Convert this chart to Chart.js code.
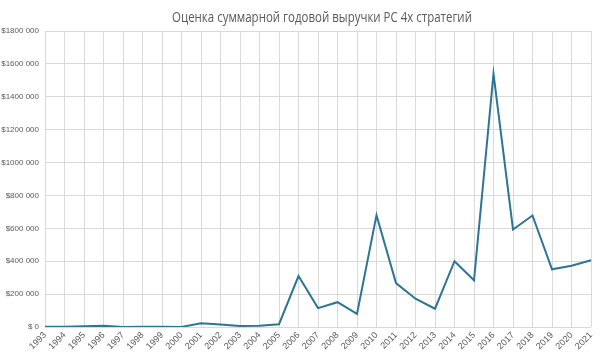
<!DOCTYPE html>
<html>
<head>
<meta charset="utf-8">
<script src="https://cdn.jsdelivr.net/npm/chart.js@4"></script>
<style>
html,body{margin:0;padding:0;background:#fff;}
#wrap{width:602px;height:353px;position:relative;}
#title{position:absolute;left:322px;top:7px;transform:translateX(-50%) scaleX(0.82);transform-origin:center;font-family:"Open Sans",sans-serif;font-size:14px;color:#595959;white-space:nowrap;}
</style>
</head>
<body>
<div id="wrap"><canvas id="c"></canvas><div id="title"></div></div>
<script>
const titleText = 'Оценка суммарной годовой выручки PC 4х стратегий';
const years = ['1993','1994','1995','1996','1997','1998','1999','2000','2001','2002','2003','2004','2005','2006','2007','2008','2009','2010','2011','2012','2013','2014','2015','2016','2017','2018','2019','2020','2021'];
const revenue = [2000,1000,5000,8000,0,1000,1000,0,23000,15000,6000,7000,17000,310000,115000,151000,80000,680000,267000,172000,111000,400000,284000,1540000,593000,678000,351000,373000,406000];
const yTicks = [0,200000,400000,600000,800000,1000000,1200000,1400000,1600000,1800000];

document.getElementById('title').textContent = titleText;
const fontFam = '"Liberation Sans", "Open Sans", sans-serif';
new Chart(document.getElementById('c'), {
  type: 'line',
  data: {
    labels: years,
    datasets: [{
      data: revenue,
      borderColor: '#2E7595',
      borderWidth: 2,
      pointRadius: 0,
      tension: 0,
      fill: false
    }]
  },
  options: {
    responsive: true,
    maintainAspectRatio: false,
    animation: false,
    layout: {padding: {left: 0, right: 11, top: 31, bottom: 0}},
    plugins: {
      legend: {display: false},
      tooltip: {enabled: false},
      title: {display: false}
    },
    scales: {
      x: {
        grid: {color: '#D9D9D9', lineWidth: 1, drawTicks: false},
        border: {display: false},
        ticks: {
          color: '#595959',
          font: {family: fontFam, size: 9},
          maxRotation: 45, minRotation: 45,
          autoSkip: false,
          padding: 3
        },
        afterFit: s => { s.height = 26; }
      },
      y: {
        min: 0, max: 1800000,
        afterBuildTicks: s => { s.ticks = yTicks.map(v => ({value: v})); },
        grid: {color: '#D9D9D9', lineWidth: 1, drawTicks: false},
        border: {display: false},
        ticks: {
          color: '#595959',
          font: {family: fontFam, size: 8},
          padding: 6,
          callback: v => v === 0 ? '$ 0' : '$' + (v / 1000) + ' 000'
        },
        afterFit: s => { s.width = 45; }
      }
    }
  }
});
</script>
</body>
</html>
